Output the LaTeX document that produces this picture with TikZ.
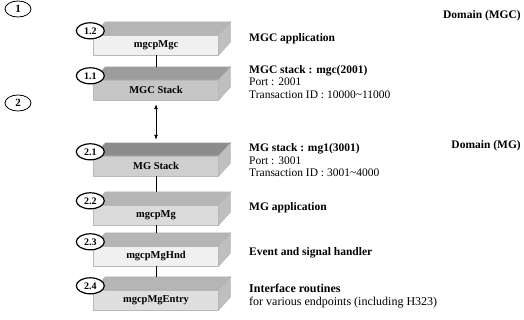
\documentclass[tikz,border=0pt]{standalone}
\usepackage{fontspec}
\setmainfont{Liberation Serif}
\usetikzlibrary{arrows.meta,positioning,calc,shapes.geometric}

% top and side faces of a layer box, plus the top coordinate for connectors
\newcommand\layerfaces[2]{%
  \draw[topface, fill=#2] (#1.north west) -- ++(12,-13) -- ($(#1.north east)+(12,-13)$) -- (#1.north east) -- cycle;
  \draw[sideface] (#1.north east) -- ++(12,-13) -- ++(0,20) -- (#1.south east) -- cycle;
  \coordinate (#1 top) at ($(#1.north)+(0,-13)$);}

\begin{document}
\begin{tikzpicture}[x=1pt, y=-1pt,
  front/.style={draw=gray!55, minimum width=125pt, minimum height=20pt, inner sep=0pt, font=\bfseries\fontsize{10.5}{11}\selectfont},
  topface/.style={draw=gray!60},
  sideface/.style={draw=gray!60, fill=gray!50},
  tag/.style={draw, ellipse, very thick, fill=white, minimum width=28pt, minimum height=16pt, inner sep=0pt, font=\bfseries\fontsize{10}{10}\selectfont},
  bigtag/.style={draw, ellipse, thick, fill=white, minimum width=26pt, minimum height=16pt, inner sep=0pt, font=\bfseries\fontsize{11}{11}\selectfont},
  note/.style={anchor=west, align=left, inner sep=0pt, font=\fontsize{11.5}{12.5}\selectfont},
  arr/.style={thick},
  dblarr/.style={{Latex[length=5pt,width=4pt]}-{Latex[length=5pt,width=4pt]}, thick}
]
\useasboundingbox (0,0) rectangle (524,320);

\node[bigtag] (one) at (18,9) {1};
\node[bigtag] (two) at (18,103) {2};

% MGC side
\node[front, fill=gray!12] (mgcpMgc) at (156,45) {mgcpMgc};
\layerfaces{mgcpMgc}{gray!58}
\node[tag] (t12) at ($(mgcpMgc.north west)+(-3,-4)$) {1.2};

\node[front, fill=gray!45] (mgcStack) at (156,90) {MGC Stack};
\layerfaces{mgcStack}{gray!78}
\node[tag] (t11) at ($(mgcStack.north west)+(-3,-4)$) {1.1};

% MG side
\node[front, fill=gray!38] (mgStack) at (156,166) {MG Stack};
\layerfaces{mgStack}{gray!90}
\node[tag] (t21) at ($(mgStack.north west)+(-3,-4)$) {2.1};

\node[front, fill=gray!28] (mgcpMg) at (156,215) {mgcpMg};
\layerfaces{mgcpMg}{gray!58}
\node[tag] (t22) at ($(mgcpMg.north west)+(-3,-4)$) {2.2};

\node[front, fill=gray!12] (mgcpMgHnd) at (156,256) {mgcpMgHnd};
\layerfaces{mgcpMgHnd}{gray!58}
\node[tag] (t23) at ($(mgcpMgHnd.north west)+(-3,-4)$) {2.3};

\node[front, fill=gray!25] (mgcpMgEntry) at (156,300) {mgcpMgEntry};
\layerfaces{mgcpMgEntry}{gray!58}
\node[tag] (t24) at ($(mgcpMgEntry.north west)+(-3,-4)$) {2.4};

\draw[arr] (mgcpMgc.south) -- (mgcStack top);
\draw[dblarr] ($(mgcStack.south)+(0,4)$) -- ($(mgStack top)+(0,-3)$);
\draw[arr] (mgStack.south) -- (mgcpMg top);
\draw[arr] (mgcpMg.south) -- (mgcpMgHnd top);
\draw[arr] (mgcpMgHnd.south) -- (mgcpMgEntry top);

% descriptions
\node[note, anchor=east, font=\bfseries\fontsize{11.5}{12.5}\selectfont] (domMgc) at (521,16) {Domain (MGC)};
\node[note, font=\bfseries\fontsize{11.5}{12.5}\selectfont] (txtMgcApp) at (249,39) {MGC application};
\node[note] (txtMgcStack) at (249,82) {\textbf{MGC stack : mgc(2001)}\\Port : 2001\\Transaction ID : 10000\textasciitilde11000};
\node[note, anchor=east, font=\bfseries\fontsize{11.5}{12.5}\selectfont] (domMg) at (521,146) {Domain (MG)};
\node[note] (txtMgStack) at (249,160.5) {\textbf{MG stack : mg1(3001)}\\Port : 3001\\Transaction ID : 3001\textasciitilde4000};
\node[note, font=\bfseries\fontsize{11.5}{12.5}\selectfont] (txtMgApp) at (249,208) {MG application};
\node[note, font=\bfseries\fontsize{11.5}{12.5}\selectfont] (txtHnd) at (249,253) {Event and signal handler};
\node[note, font=\fontsize{12}{12.5}\selectfont] (txtEntry) at (249,296) {\textbf{Interface routines}\\for various endpoints (including H323)};

\end{tikzpicture}
\end{document}
